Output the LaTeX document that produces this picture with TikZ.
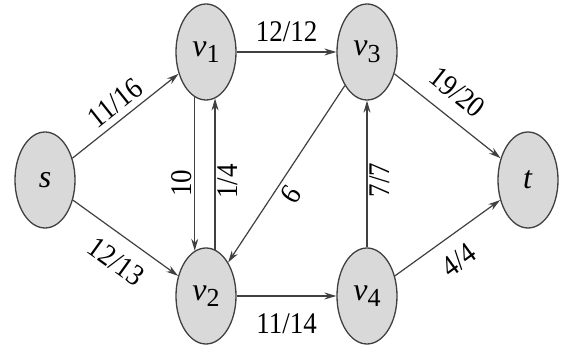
\documentclass[tikz,border=0pt]{standalone}
\usepackage{fontspec}
\usepackage{graphicx}
\setmainfont{Liberation Serif}
\usetikzlibrary{shapes.geometric,arrows.meta}
\newcommand\vlab[1]{\textit{v}\raisebox{-0.45ex}{\fontsize{26}{26}\selectfont #1}}
\newcommand\nl[1]{\scalebox{0.9}[1]{#1}}
\begin{document}
\begin{tikzpicture}[x=1pt,y=1pt,
  vert/.style={ellipse, draw=black!75, line width=1.3pt, fill=gray!30,
    minimum width=60pt, minimum height=96pt, inner sep=0pt,
    font=\rmfamily\fontsize{32}{32}\selectfont},
  edge/.style={draw=black!75, line width=1.2pt, -{Stealth[length=12pt,width=7pt]}},
  lab/.style={font=\rmfamily\fontsize{30}{30}\selectfont, inner sep=2pt, text=black}]
\useasboundingbox[fill=white] (0,0) rectangle (563,352);
\node[vert] (s)  at (45,172)  {\textit{s}};
\node[vert] (v1) at (206,300) {\vlab{1}};
\node[vert] (v2) at (206,56)  {\vlab{2}};
\node[vert] (v3) at (367,300) {\vlab{3}};
\node[vert] (v4) at (367,56)  {\vlab{4}};
\node[vert] (t)  at (528,172) {\textit{t}};
\draw[edge] (s) -- node[lab, sloped, above=4pt] {\nl{11/16}} (v1);
\draw[edge] (s) -- node[lab, pos=0.55, sloped, below=12pt] {\nl{12/13}} (v2);
\draw[edge] (v1) -- node[lab, above=8pt] {\nl{12/12}} (v3);
\draw[edge] (v2) -- node[lab, below=15pt] {\nl{11/14}} (v4);
\draw[edge] (v1.-104) -- node[lab, pos=0.56, rotate=90, anchor=south] {\nl{10}} (v2.104);
\draw[edge] (v2.79) -- node[lab, pos=0.45, rotate=90, anchor=north] {\nl{1/4}} (v1.-79);
\draw[edge] (v3) -- node[lab, pos=0.57, rotate=-123.4, anchor=south, inner sep=5pt] {\nl{9}} (v2);
\draw[edge] (v4) -- node[lab, pos=0.46, rotate=90, anchor=north] {\nl{7/7}} (v3);
\draw[edge] (v3) -- node[lab, pos=0.45, sloped, above=12pt] {\nl{19/20}} (t);
\draw[edge] (v4) -- node[lab, pos=0.47, sloped, below=12pt] {\nl{4/4}} (t);
\end{tikzpicture}
\end{document}
